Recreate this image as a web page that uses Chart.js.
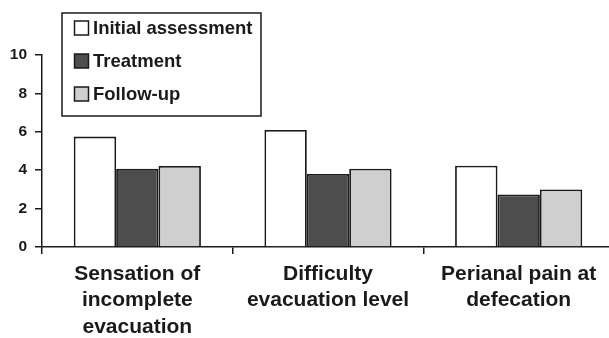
<!DOCTYPE html>
<html>
<head>
<meta charset="utf-8">
<script src="https://cdn.jsdelivr.net/npm/chart.js@4.4.1/dist/chart.umd.min.js"></script>
<style>
html,body{margin:0;padding:0;background:#fff;overflow:hidden;}
#wrap{position:relative;width:614px;height:338px;}
</style>
</head>
<body>
<div id="wrap"><canvas id="c"></canvas></div>
<script>
const categories = [
  ["Sensation of", "incomplete", "evacuation"],
  ["Difficulty", "evacuation level"],
  ["Perianal pain at", "defecation"]
];
const seriesNames = ["Initial assessment", "Treatment", "Follow-up"];
const initialAssessment = [5.75, 6.1, 4.23];
const treatment = [4.07, 3.8, 2.73];
const followUp = [4.22, 4.08, 3.0];
const yTicks = [0, 2, 4, 6, 8, 10];

const colors = ["#ffffff", "#4d4d4d", "#cfcfcf"];
const ink = "#1a1a1a";
const FONT = "'Liberation Sans', Arial, sans-serif";

const legendBox = {
  id: 'legendBox',
  afterDraw(chart) {
    const ctx = chart.ctx;
    ctx.save();
    ctx.strokeStyle = ink;
    ctx.lineWidth = 1.5;
    ctx.fillStyle = '#fff';
    ctx.fillRect(62, 13, 199, 103);
    ctx.strokeRect(62, 13, 199, 103);
    const rows = [28, 61, 94];
    ctx.font = "bold 18.5px " + FONT;
    ctx.textBaseline = 'middle';
    chart.data.datasets.forEach((ds, i) => {
      const y = rows[i];
      ctx.fillStyle = ds.backgroundColor;
      ctx.fillRect(74.5, y - 7, 14, 14);
      ctx.lineWidth = 1.5;
      ctx.strokeStyle = ink;
      ctx.strokeRect(74.5, y - 7, 14, 14);
      ctx.fillStyle = ink;
      ctx.fillText(ds.label, 93, y + 1);
    });
    ctx.restore();
  }
};

new Chart(document.getElementById('c'), {
  type: 'bar',
  data: {
    labels: categories,
    datasets: [
      { label: seriesNames[0], data: initialAssessment, backgroundColor: colors[0] },
      { label: seriesNames[1], data: treatment, backgroundColor: colors[1] },
      { label: seriesNames[2], data: followUp, backgroundColor: colors[2] }
    ].map(d => Object.assign(d, { borderColor: ink, borderWidth: 1.8, categoryPercentage: 0.667, barPercentage: 1.0 }))
  },
  options: {
    responsive: true,
    maintainAspectRatio: false,
    animation: false,
    layout: { padding: { top: 55, left: 0, right: 0, bottom: 0 } },
    plugins: { legend: { display: false }, tooltip: { enabled: false } },
    scales: {
      x: {
        afterFit(s) { s.height = 91; },
        grid: { offset: true, drawOnChartArea: false, tickLength: 7, color: ink, lineWidth: 1.5 },
        border: { color: ink, width: 1.5 },
        ticks: {
          padding: 7,
          color: ink,
          maxRotation: 0,
          autoSkip: false,
          font: { family: FONT, size: 21, weight: 'bold', lineHeight: 1.26 }
        }
      },
      y: {
        min: 0, max: 10,
        afterFit(s) { s.width = 42; },
        afterBuildTicks(s) { s.ticks = yTicks.map(v => ({ value: v })); },
        grid: { drawOnChartArea: false, tickLength: 7, color: ink, lineWidth: 1.5 },
        border: { color: ink, width: 1.5 },
        ticks: {
          padding: 8,
          color: ink,
          font: { family: FONT, size: 15.5, weight: 'bold' }
        }
      }
    }
  },
  plugins: [legendBox]
});
</script>
</body>
</html>
